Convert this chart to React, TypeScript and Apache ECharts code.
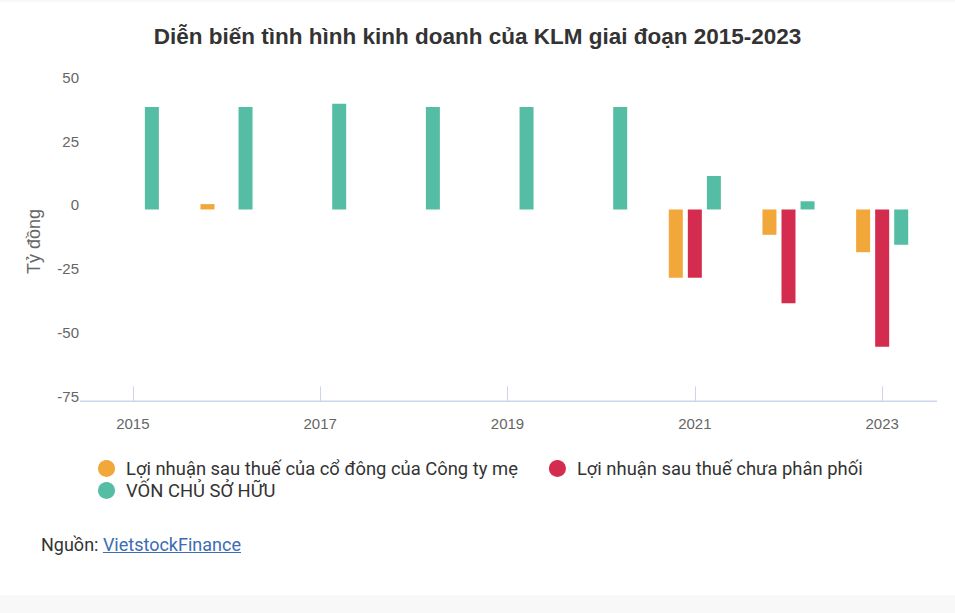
import * as echarts from 'echarts';
import React, { useEffect, useRef } from 'react';

const years = ['2015', '2016', '2017', '2018', '2019', '2020', '2021', '2022', '2023'];
const loiNhuanCoDong = [null, 2.1, null, null, null, null, -26.7, -9.9, -16.7];
const loiNhuanChuaPhanPhoi = [null, null, null, null, null, null, -26.7, -36.7, -53.7];
const vonChuSoHuu = [40.1, 40.1, 41.3, 40.1, 40.1, 40.1, 13.1, 3.2, -13.8];

const seriesNames = [
  'Lợi nhuận sau thuế của cổ đông của Công ty mẹ',
  'Lợi nhuận sau thuế chưa phân phối',
  'VỐN CHỦ SỞ HỮU',
];
const colors = ['#f2a73b', '#d42c4e', '#55bda3'];

const axisFont = '"Liberation Sans", Arial, sans-serif';
const legendFont = 'Roboto, "Liberation Sans", Arial, sans-serif';

const App: React.FC = () => {
  const chartRef = useRef<HTMLDivElement>(null);

  useEffect(() => {
    document.body.style.margin = '0';
    if (!chartRef.current) return;
    const chart = echarts.init(chartRef.current, undefined, { renderer: 'svg' });

    const legendText = {
      color: '#333333',
      fontSize: 18.4,
      fontFamily: legendFont,
      padding: [0, 0, 0, 6],
    };

    chart.setOption({
      animation: false,
      color: colors,
      title: {
        text: 'Diễn biến tình hình kinh doanh của KLM giai đoạn 2015-2023',
        left: 'center',
        top: 20,
        textStyle: {
          fontSize: 22.5,
          fontWeight: 'bold',
          color: '#333333',
          fontFamily: axisFont,
        },
      },
      legend: [
        {
          data: seriesNames.slice(0, 2),
          left: 98,
          top: 459.5,
          padding: 0,
          icon: 'circle',
          itemWidth: 17,
          itemHeight: 17,
          itemGap: 31,
          textStyle: legendText,
        },
        {
          data: seriesNames.slice(2),
          left: 98,
          top: 481.5,
          padding: 0,
          icon: 'circle',
          itemWidth: 17,
          itemHeight: 17,
          textStyle: legendText,
        },
      ],
      grid: { left: 86, right: 26, top: 81.6, bottom: 211.7 },
      xAxis: {
        type: 'category',
        data: years,
        axisLine: { show: false, onZero: false },
        axisTick: {
          show: true,
          inside: true,
          length: 15,
          interval: 1,
          alignWithLabel: true,
          lineStyle: { color: '#ccd6eb' },
        },
        axisLabel: {
          interval: 1,
          margin: 15,
          fontSize: 15,
          color: '#666666',
          fontFamily: axisFont,
        },
      },
      yAxis: {
        type: 'value',
        min: -75,
        max: 50,
        interval: 25,
        name: 'Tỷ đồng',
        nameLocation: 'middle',
        nameGap: 43,
        nameTextStyle: { fontSize: 18, color: '#666666', fontFamily: axisFont },
        splitLine: { show: false },
        axisLine: { show: false },
        axisTick: { show: false },
        axisLabel: {
          margin: 7,
          fontSize: 15,
          lineHeight: 9,
          color: '#666666',
          fontFamily: axisFont,
          verticalAlign: 'bottom',
        },
      },
      graphic: [
        {
          type: 'line',
          shape: { x1: 80, y1: 401.3, x2: 937, y2: 401.3 },
          style: { stroke: '#ccd6eb', lineWidth: 1.5 },
          silent: true,
        },
      ],
      series: [
        { name: seriesNames[0], type: 'bar', data: loiNhuanCoDong, barWidth: 14, barGap: '36%' },
        { name: seriesNames[1], type: 'bar', data: loiNhuanChuaPhanPhoi, barWidth: 14, barGap: '36%' },
        { name: seriesNames[2], type: 'bar', data: vonChuSoHuu, barWidth: 14, barGap: '36%' },
      ],
    });

    return () => {
      chart.dispose();
    };
  }, []);

  return (
    <div style={{ position: 'relative', width: 955, height: 613, background: '#f8f8f8' }}>
      <div style={{ position: 'absolute', left: 0, top: 2, width: 955, height: 593, background: '#ffffff' }} />
      <div ref={chartRef} style={{ position: 'absolute', left: 0, top: 0, width: 955, height: 613 }} />
      <div
        style={{
          position: 'absolute',
          left: 41,
          top: 534,
          fontFamily: legendFont,
          fontSize: 18,
          color: '#333333',
          lineHeight: '22px',
        }}
      >
        Nguồn:{' '}
        <a href="#" style={{ color: '#3b6db3', textDecoration: 'underline' }}>
          VietstockFinance
        </a>
      </div>
    </div>
  );
};

export default App;
